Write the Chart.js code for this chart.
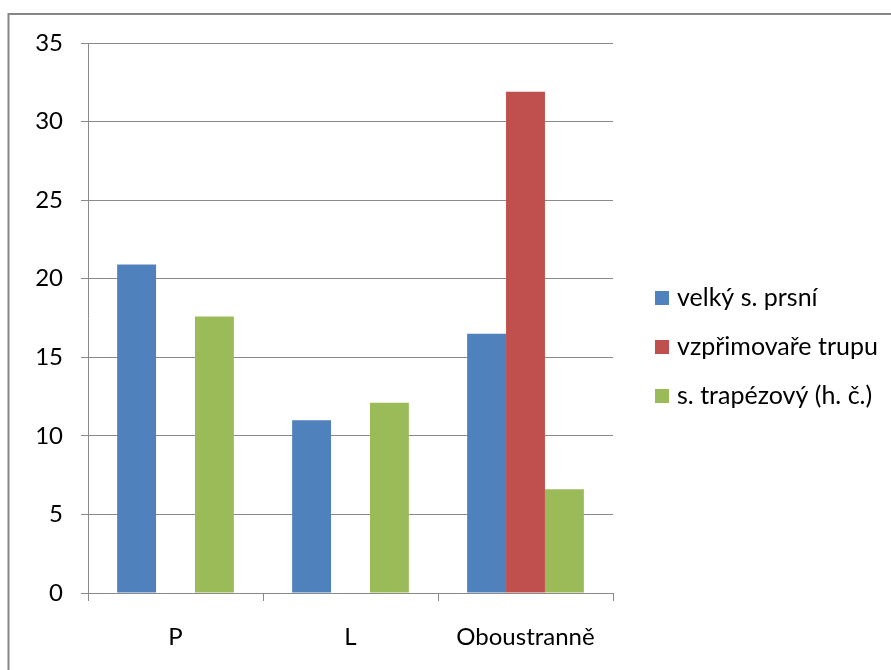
<!DOCTYPE html>
<html>
<head>
<meta charset="utf-8">
<script src="https://cdn.jsdelivr.net/npm/chart.js@4.4.0/dist/chart.umd.min.js"></script>
<style>
  body { margin: 0; background: #fff; }
  canvas { display: block; }
</style>
</head>
<body>
<canvas id="chart" width="891" height="670"></canvas>
<script>
// Data
const categories = ['P', 'L', 'Oboustranně'];
const seriesNames = ['velký s. prsní', 'vzpřimovaře trupu', 's. trapézový (h. č.)'];
const velkyPrsni = [20.9, 11, 16.5];
const vzprimovare = [0, 0, 31.9];
const trapezovy = [17.6, 12.1, 6.6];
const yTicks = [0, 5, 10, 15, 20, 25, 30, 35];
const colors = ['#4F81BD', '#C0504D', '#9BBB59'];

const FONT = 'Lato, "Liberation Sans", sans-serif';
const gridGray = '#8a8a8a';

// Outer frame like the office chart border
const framePlugin = {
    id: 'frame',
    beforeDraw(chart) {
        const ctx = chart.ctx;
        ctx.save();
        ctx.strokeStyle = '#868686';
        ctx.lineWidth = 2;
        ctx.beginPath();
        ctx.moveTo(8.5, 700);
        ctx.lineTo(8.5, 14);
        ctx.lineTo(900, 14);
        ctx.stroke();
        ctx.restore();
    }
};

// Legend on the right, squares + labels
const legendPlugin = {
    id: 'sideLegend',
    afterDraw(chart) {
        const ctx = chart.ctx;
        ctx.save();
        ctx.font = '25px ' + FONT;
        ctx.textBaseline = 'middle';
        chart.data.datasets.forEach((ds, i) => {
            const y = 298 + i * 49;
            ctx.fillStyle = ds.backgroundColor;
            ctx.fillRect(655, y - 7, 14, 14);
            ctx.fillStyle = '#000';
            ctx.fillText(ds.label, 677, y);
        });
        ctx.restore();
    }
};

const ctx = document.getElementById('chart').getContext('2d');
new Chart(ctx, {
    type: 'bar',
    data: {
        labels: categories,
        datasets: [
            { label: seriesNames[0], data: velkyPrsni, backgroundColor: colors[0] },
            { label: seriesNames[1], data: vzprimovare, backgroundColor: colors[1] },
            { label: seriesNames[2], data: trapezovy, backgroundColor: colors[2] }
        ]
    },
    options: {
        responsive: false,
        animation: false,
        devicePixelRatio: 1,
        datasets: {
            bar: { categoryPercentage: 0.667, barPercentage: 1.0, borderWidth: 0 }
        },
        layout: { padding: { top: 43, right: 278, bottom: 0, left: 0 } },
        plugins: {
            legend: { display: false },
            tooltip: { enabled: false }
        },
        scales: {
            x: {
                afterFit(scale) { scale.height = 77; },
                grid: { display: true, drawOnChartArea: false, drawTicks: true, tickLength: 8, color: gridGray, lineWidth: 1 },
                border: { display: true, color: gridGray, width: 1 },
                ticks: { color: '#000', font: { family: FONT, size: 24 }, padding: 22 }
            },
            y: {
                min: yTicks[0],
                max: yTicks[yTicks.length - 1],
                afterFit(scale) { scale.width = 88; },
                afterBuildTicks(scale) { scale.ticks = yTicks.map(v => ({ value: v })); },
                grid: { color: gridGray, lineWidth: 1, tickLength: 7 },
                border: { display: true, color: gridGray, width: 1 },
                ticks: { color: '#000', font: { family: FONT, size: 24 }, padding: 18 }
            }
        }
    },
    plugins: [framePlugin, legendPlugin]
});
</script>
</body>
</html>
